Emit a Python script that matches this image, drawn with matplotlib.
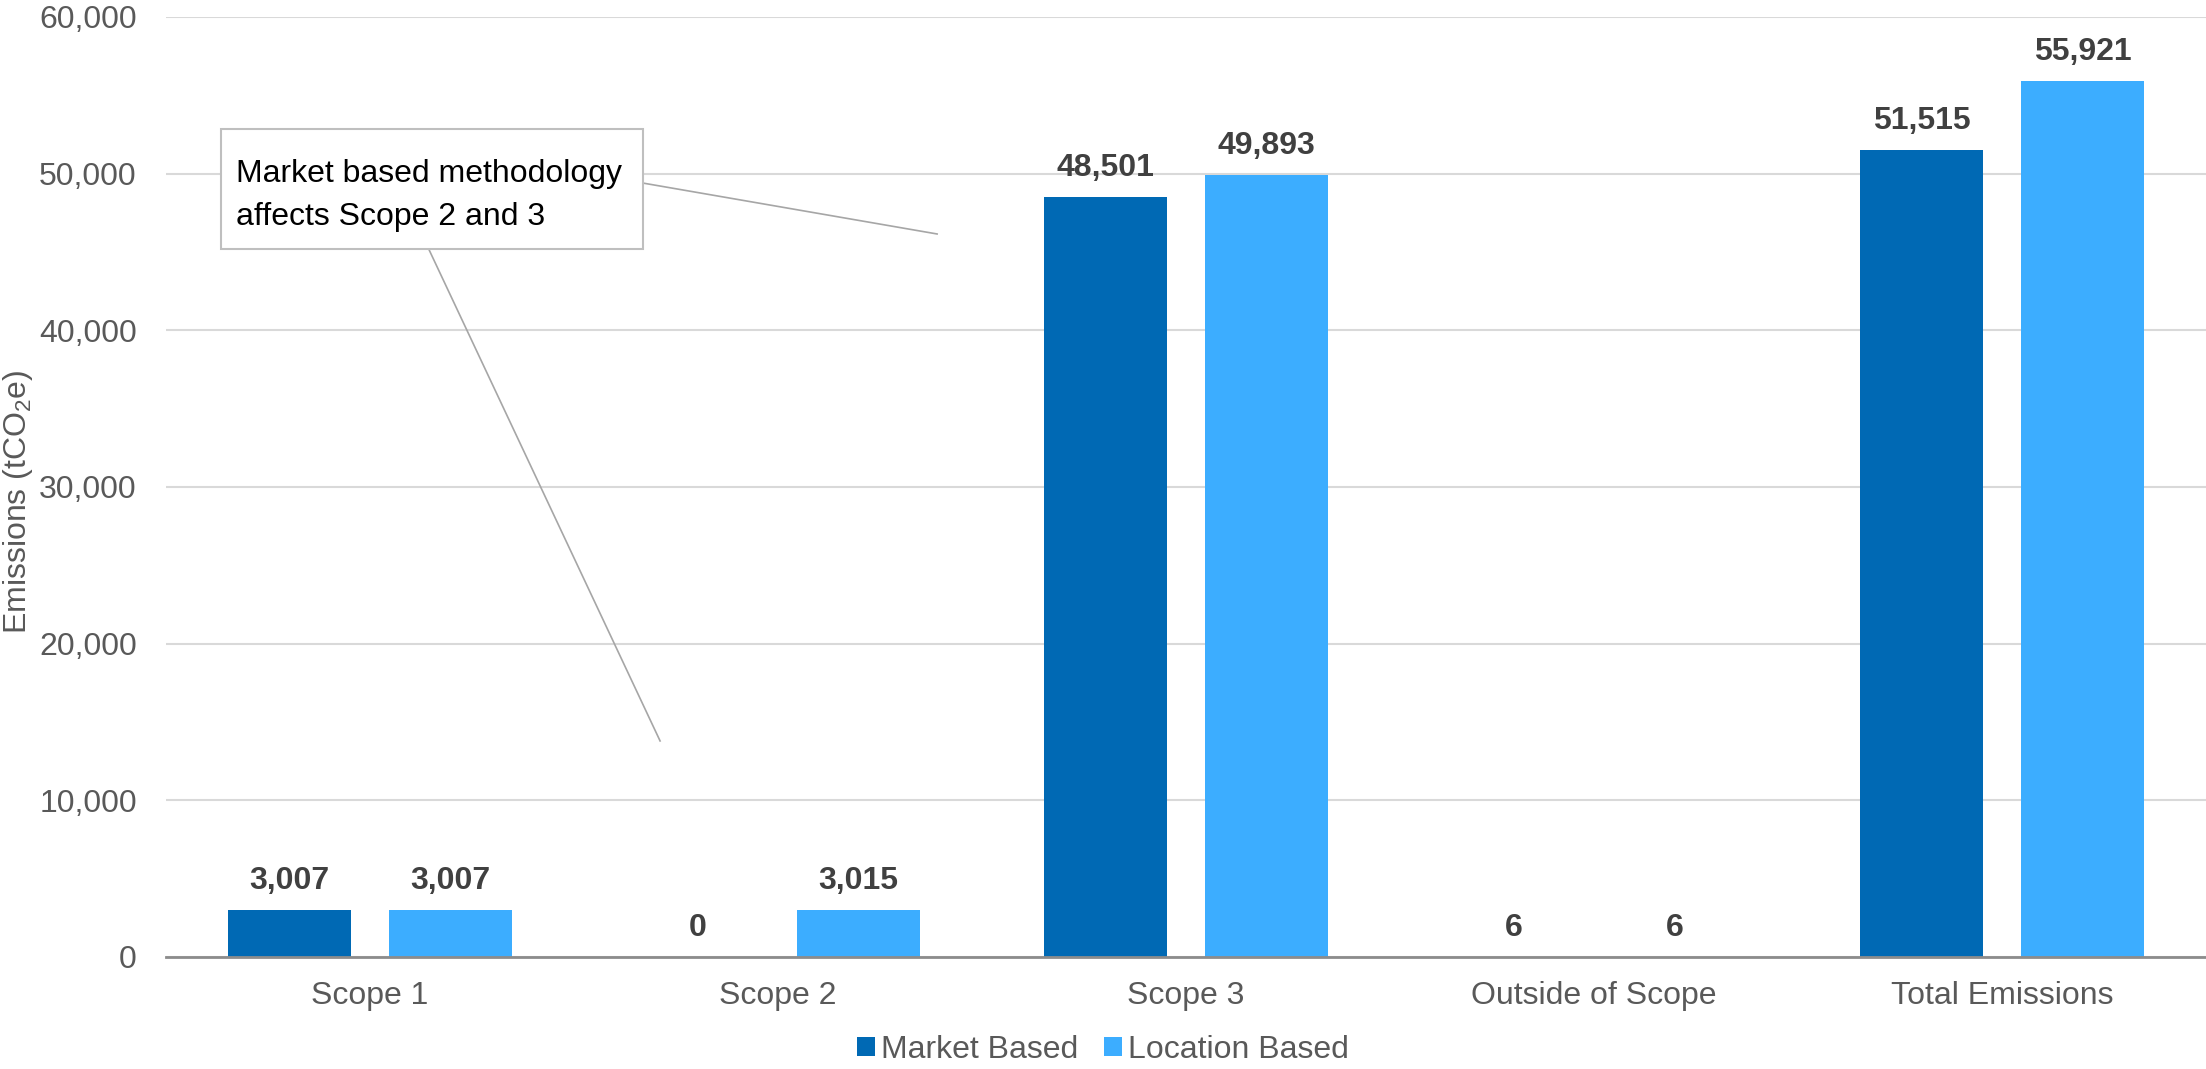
import numpy as np
import matplotlib.pyplot as plt
from matplotlib.patches import Rectangle

plt.rcParams.update({
    "font.family": ["Liberation Sans", "DejaVu Sans"],
    "mathtext.fontset": "custom",
    "mathtext.rm": "Liberation Sans",
    "mathtext.it": "Liberation Sans",
})

# Data
categories = ["Scope 1", "Scope 2", "Scope 3", "Outside of Scope", "Total Emissions"]
market_based = [3007, 0, 48501, 6, 51515]
location_based = [3007, 3015, 49893, 6, 55921]
series_names = ["Market Based", "Location Based"]
yticks = [0, 10000, 20000, 30000, 40000, 50000, 60000]

dark_blue = "#0069B4"
light_blue = "#3CADFF"
tick_grey = "#595959"
label_grey = "#404040"
fs = 23

fig = plt.figure(figsize=(22.06, 10.69), dpi=100)
ax = fig.add_axes([166 / 2206, 112 / 1069, 2040 / 2206, 940 / 1069])

x = np.arange(len(categories))
w = 0.303
off = 0.197
b1 = ax.bar(x - off, market_based, w, color=dark_blue, label=series_names[0], zorder=3)
b2 = ax.bar(x + off, location_based, w, color=light_blue, label=series_names[1], zorder=3)

# value labels above the bars
for bars in (b1, b2):
    for rect in bars:
        v = rect.get_height()
        ax.annotate(f"{v:,.0f}", (rect.get_x() + rect.get_width() / 2, v),
                    xytext=(0, 10), textcoords="offset points",
                    ha="center", va="bottom", fontsize=fs, fontweight="bold",
                    color=label_grey, zorder=4)

ax.set_xlim(-0.5, 4.5)
ax.set_ylim(0, 60000)
ax.set_yticks(yticks)
ax.set_yticklabels([f"{t:,}" for t in yticks])
ax.set_xticks(x)
ax.set_xticklabels(categories)
ax.tick_params(axis="y", length=0, pad=21, labelsize=fs, labelcolor=tick_grey)
ax.tick_params(axis="x", length=0, pad=17, labelsize=fs, labelcolor=tick_grey)

ax.grid(axis="y", color="#D9D9D9", linewidth=1.5, zorder=0)
ax.set_axisbelow(True)
for s in ["left", "right", "top"]:
    ax.spines[s].set_visible(False)
ax.spines["bottom"].set_color("#8C8C8C")
ax.spines["bottom"].set_linewidth(2)
ax.spines["bottom"].set_zorder(5)

fig.text(18 / 2206, 1 - 502 / 1069, "Emissions (tCO$_2$e)", rotation=90,
         ha="center", va="center", fontsize=fs, color=tick_grey)

# callout box with its two leader lines
line_col = "#A6A6A6"
ax.plot([0.669, 1.39], [49400, 46150], color=line_col, lw=1.2, zorder=6, clip_on=False)
ax.plot([0.145, 0.711], [45130, 13790], color=line_col, lw=1.2, zorder=6, clip_on=False)
ax.add_patch(Rectangle((-0.365, 45190), 1.034, 7660, facecolor="white",
                       edgecolor="#BFBFBF", lw=1.5, zorder=7))
ax.text(-0.328, 48600, "Market based methodology\naffects Scope 2 and 3",
        fontsize=fs, color="black", ha="left", va="center", linespacing=1.55, zorder=8)

fig.legend(loc="center", bbox_to_anchor=(0.5, 19 / 1069), ncol=2, frameon=False,
           fontsize=fs, labelcolor=tick_grey, handlelength=0.55, handleheight=0.55,
           handletextpad=0.2, columnspacing=0.8, borderaxespad=0.0)

fig.savefig("out.png", dpi=100)
